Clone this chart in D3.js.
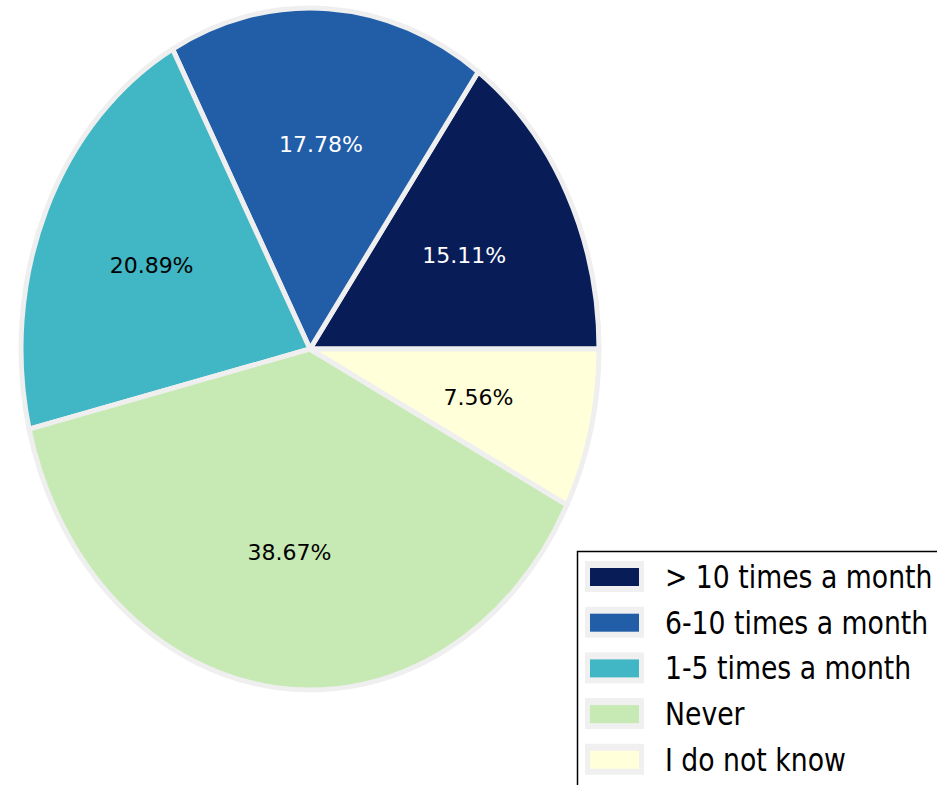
<!DOCTYPE html>
<html>
<head>
<meta charset="utf-8">
<script src="https://cdn.jsdelivr.net/npm/d3@7"></script>
<style>
  html, body { margin: 0; padding: 0; background: #ffffff; }
  svg { display: block; }
</style>
</head>
<body>
<svg id="chart" width="937" height="785"></svg>
<script>
const categories = ["> 10 times a month", "6-10 times a month", "1-5 times a month", "Never", "I do not know"];
const counts = [34, 40, 47, 87, 17];
const colors = ["#081d58", "#225ea8", "#41b6c4", "#c7e9b4", "#ffffd9"];
const labelColors = ["#ffffff", "#ffffff", "#000000", "#000000", "#000000"];

const svg = d3.select("#chart");
const cx = 310, cy = 349;
const rx = 289, ry = 341;
const sy = ry / rx;

const total = d3.sum(counts);
const pie = d3.pie().sort(null).value(d => d)
  .startAngle(Math.PI / 2).endAngle(Math.PI / 2 - 2 * Math.PI);
const arcs = pie(counts);

const arc = d3.arc().innerRadius(0).outerRadius(rx);
const labelArc = d3.arc().innerRadius(rx * 0.6).outerRadius(rx * 0.6);

const g = svg.append("g").attr("transform", `translate(${cx},${cy}) scale(1,${sy})`);
g.selectAll("path").data(arcs).enter().append("path")
  .attr("d", arc)
  .attr("fill", (d, i) => colors[i])
  .attr("stroke", "#efefef")
  .attr("stroke-width", 5)
  .attr("stroke-linejoin", "round")
  .attr("vector-effect", "non-scaling-stroke");

const fmt = v => (v / total * 100).toFixed(2) + "%";
svg.append("g").selectAll("text").data(arcs).enter().append("text")
  .attr("x", d => cx + labelArc.centroid(d)[0])
  .attr("y", d => cy + labelArc.centroid(d)[1] * sy)
  .attr("text-anchor", "middle")
  .attr("dominant-baseline", "central")
  .attr("font-family", "DejaVu Sans")
  .attr("font-size", 22)
  .attr("fill", (d, i) => labelColors[i])
  .text(d => fmt(d.value));

// Legend
const lg = svg.append("g");
lg.append("rect")
  .attr("x", 577.5).attr("y", 551.5)
  .attr("width", 500).attr("height", 400)
  .attr("fill", "#ffffff")
  .attr("stroke", "#000000")
  .attr("stroke-width", 1.5);

const rowY = i => 577 + i * 45.7;
categories.forEach((c, i) => {
  lg.append("rect")
    .attr("x", 585).attr("y", rowY(i) - 16)
    .attr("width", 59).attr("height", 31)
    .attr("fill", "#f0f0f0");
  lg.append("rect")
    .attr("x", 590).attr("y", rowY(i) - 9)
    .attr("width", 49).attr("height", 18)
    .attr("fill", colors[i]);
  lg.append("text")
    .attr("transform", `translate(665,${rowY(i) + 11}) scale(1,1.17)`)
    .attr("font-family", "DejaVu Sans")
    .attr("font-size", 26.7)
    .attr("fill", "#000000")
    .text(c);
});
</script>
</body>
</html>
